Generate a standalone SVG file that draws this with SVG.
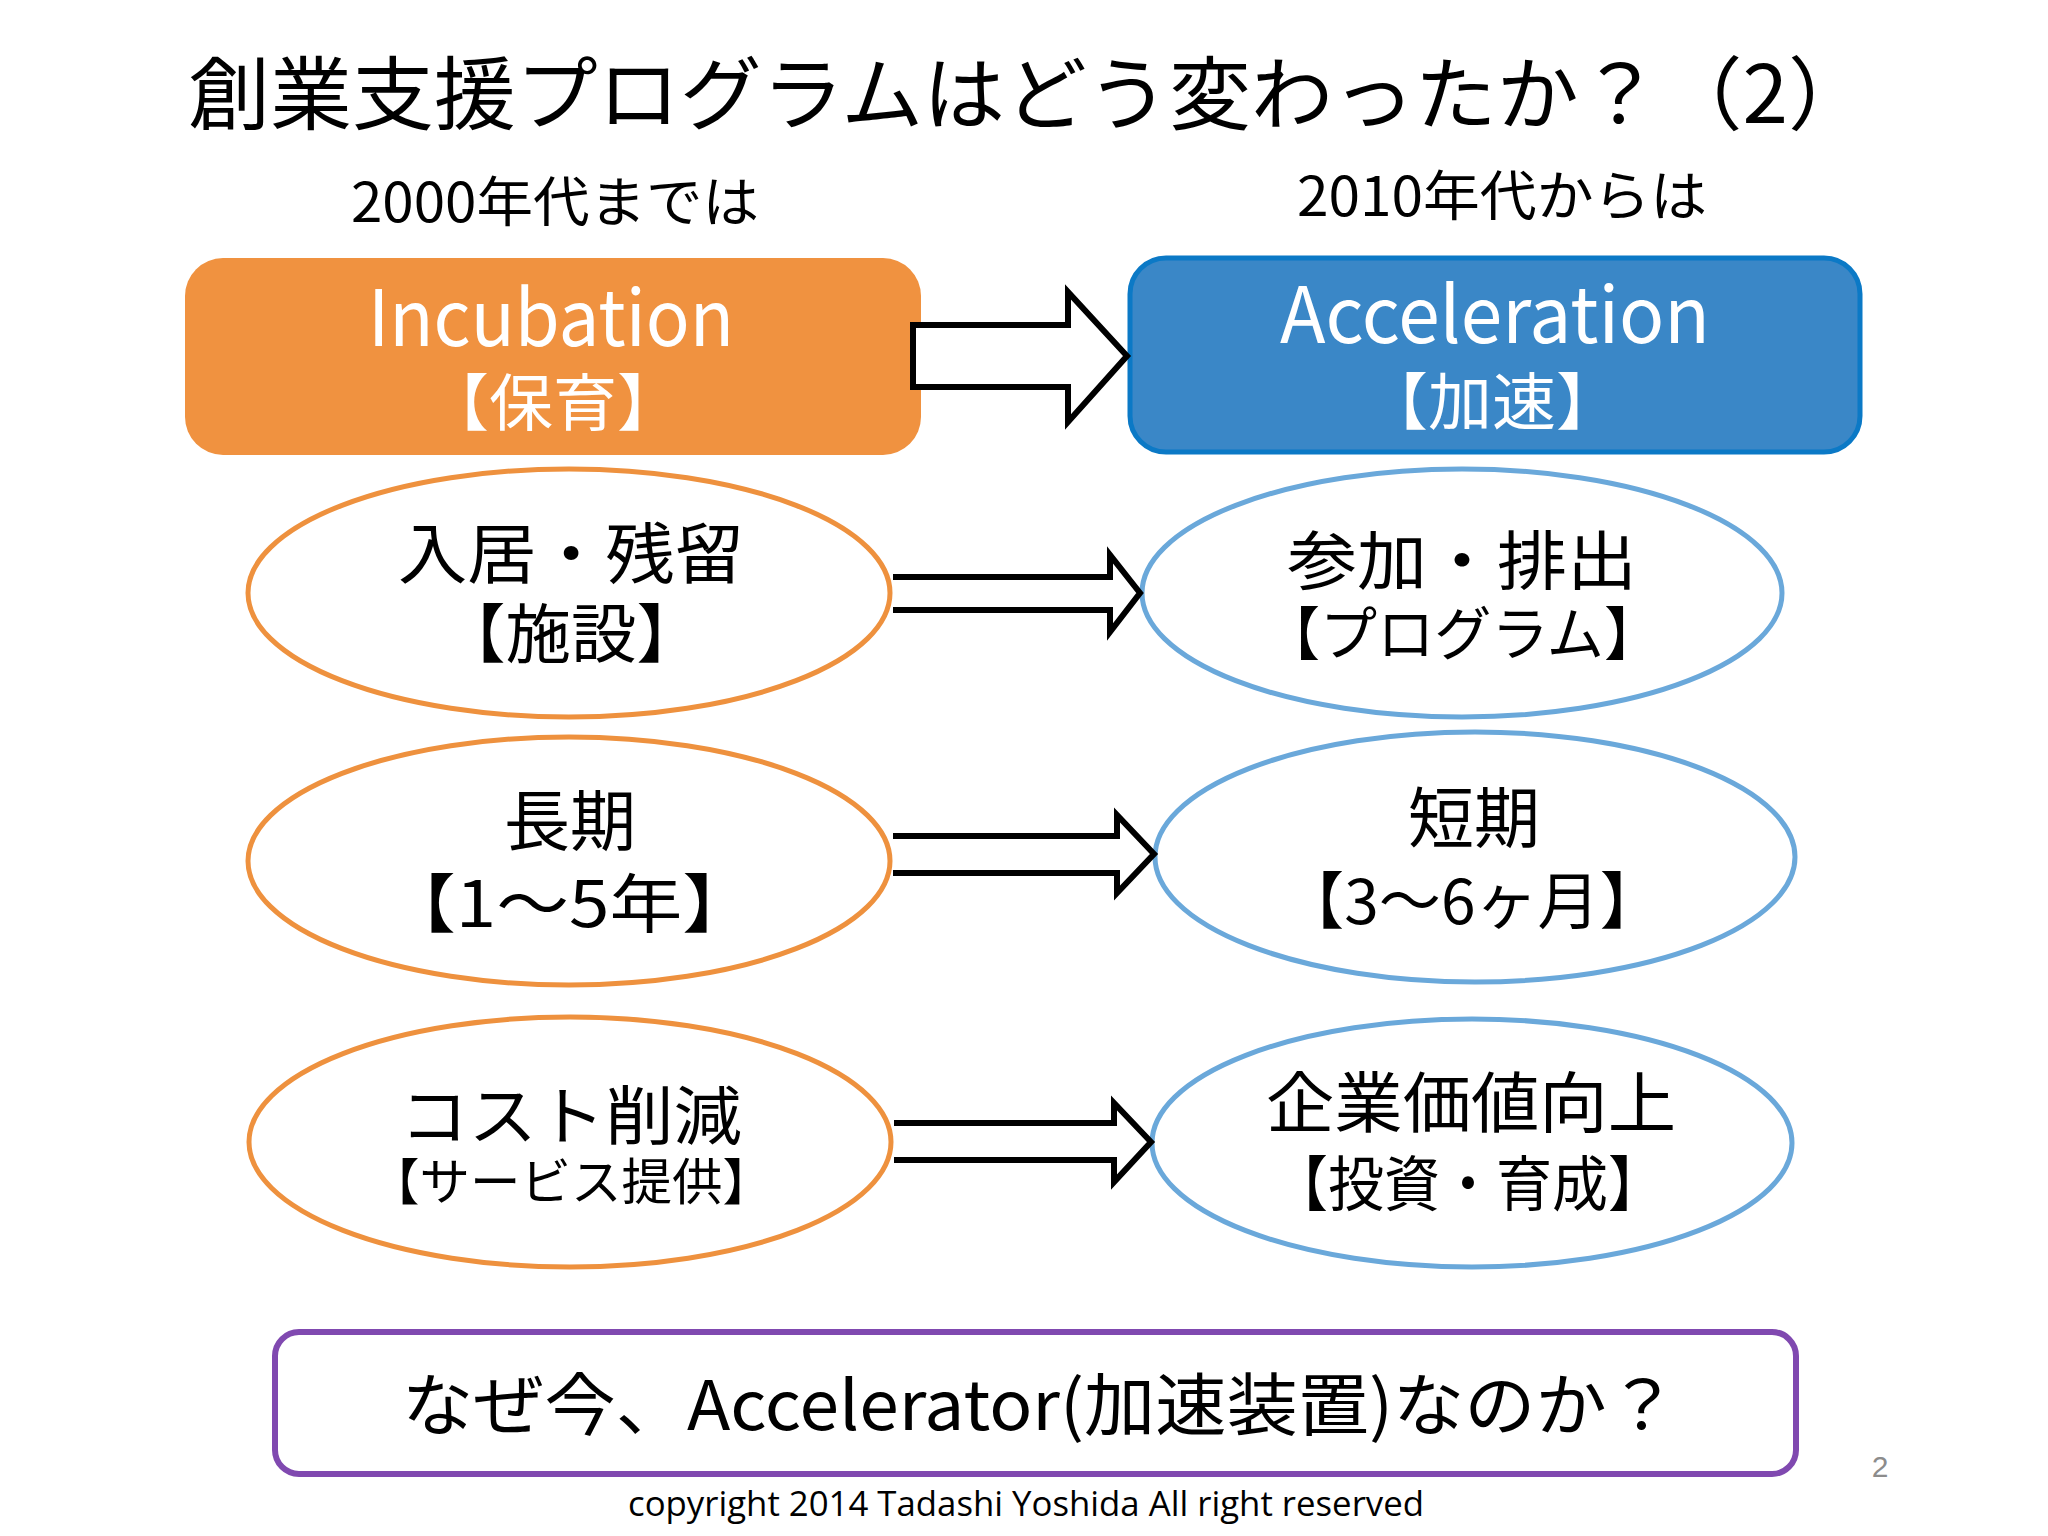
<svg xmlns="http://www.w3.org/2000/svg" width="2048" height="1536" viewBox="0 0 2048 1536">
<style>
  text { font-family: "Noto Sans CJK JP", "Noto Sans", sans-serif; }
  .t { fill: #000; }
  .w { fill: #fff; }
  .mid { text-anchor: middle; }
  .ob { fill: #F09240; }
  .bb { fill: #3A87C7; stroke: #0B79C6; stroke-width: 5; }
  .oe { fill: #fff; stroke: #EE913E; stroke-width: 5; }
  .be { fill: #fff; stroke: #6AA8DA; stroke-width: 5; }
  .arr { fill: #fff; stroke: #000; stroke-width: 6; stroke-linejoin: miter; }
  .pb { fill: #fff; stroke: #8049B0; stroke-width: 6; }
</style>
<rect width="2048" height="1536" fill="#fff"/>

<g id="title">
  <text class="t" x="188" y="123" font-size="80" textLength="1682" lengthAdjust="spacingAndGlyphs">創業支援プログラムはどう変わったか？（2）</text>
</g>
<g id="label-2000s">
  <text class="t" x="351" y="222" font-size="54" textLength="408" lengthAdjust="spacingAndGlyphs">2000年代までは</text>
</g>
<g id="label-2010s">
  <text class="t" x="1297" y="216" font-size="54" textLength="410" lengthAdjust="spacingAndGlyphs">2010年代からは</text>
</g>

<g id="incubation">
  <rect class="ob" x="185" y="258" width="736" height="197" rx="38"/>
  <text class="w" x="368" y="346" font-size="78" textLength="366" lengthAdjust="spacingAndGlyphs">Incubation</text>
  <text class="w mid" x="553" y="426" font-size="62" textLength="256" lengthAdjust="spacingAndGlyphs">【保育】</text>
</g>
<g id="acceleration">
  <rect class="bb" x="1130" y="258" width="730" height="194" rx="36"/>
  <text class="w" x="1280" y="343" font-size="78" textLength="430" lengthAdjust="spacingAndGlyphs">Acceleration</text>
  <text class="w mid" x="1492" y="425" font-size="62" textLength="256" lengthAdjust="spacingAndGlyphs">【加速】</text>
</g>

<g id="nyukyo">
  <ellipse class="oe" cx="569" cy="593" rx="321" ry="124"/>
  <text class="t mid" x="571" y="578" font-size="66" textLength="346" lengthAdjust="spacingAndGlyphs">入居・残留</text>
  <text class="t mid" x="571" y="657" font-size="64" textLength="262" lengthAdjust="spacingAndGlyphs">【施設】</text>
</g>
<g id="sanka">
  <ellipse class="be" cx="1462" cy="593" rx="320" ry="124"/>
  <text class="t mid" x="1462" y="584" font-size="64" textLength="350" lengthAdjust="spacingAndGlyphs">参加・排出</text>
  <text class="t mid" x="1462" y="655" font-size="58" textLength="398" lengthAdjust="spacingAndGlyphs">【プログラム】</text>
</g>
<g id="choki">
  <ellipse class="oe" cx="569" cy="861" rx="321" ry="124"/>
  <text class="t mid" x="570" y="845" font-size="66">長期</text>
  <text class="t mid" x="569" y="927" font-size="64" textLength="372" lengthAdjust="spacingAndGlyphs">【1～5年】</text>
</g>
<g id="tanki">
  <ellipse class="be" cx="1475" cy="857" rx="320" ry="125"/>
  <text class="t mid" x="1474" y="842" font-size="66">短期</text>
  <text class="t mid" x="1472" y="924" font-size="62" textLength="380" lengthAdjust="spacingAndGlyphs">【3～6ヶ月】</text>
</g>
<g id="cost">
  <ellipse class="oe" cx="570" cy="1142" rx="321" ry="125"/>
  <text class="t mid" x="571" y="1139" font-size="64" textLength="342" lengthAdjust="spacingAndGlyphs">コスト削減</text>
  <text class="t mid" x="571" y="1200" font-size="50" textLength="404" lengthAdjust="spacingAndGlyphs">【サービス提供】</text>
</g>
<g id="kigyo">
  <ellipse class="be" cx="1472" cy="1143" rx="320" ry="124"/>
  <text class="t mid" x="1471" y="1127" font-size="66" textLength="410" lengthAdjust="spacingAndGlyphs">企業価値向上</text>
  <text class="t mid" x="1468" y="1206" font-size="60" textLength="392" lengthAdjust="spacingAndGlyphs">【投資・育成】</text>
</g>

<g id="connectors">
  <polygon class="arr" points="913,325 1068,325 1068,292 1127,356 1068,422 1068,387 913,387"/>
  <path class="arr" d="M893,577 H1110 V555 L1140,593 L1110,632 V610 H893"/>
  <path class="arr" d="M893,836 H1117 V815 L1154,854 L1117,893 V873 H893"/>
  <path class="arr" d="M894,1123 H1114 V1103 L1151,1142 L1114,1182 V1160 H894"/>
</g>

<g id="question">
  <rect class="pb" x="275" y="1332" width="1521" height="142" rx="24"/>
  <text class="t" x="402" y="1430" font-size="68" textLength="1276" lengthAdjust="spacingAndGlyphs">なぜ今、Accelerator(加速装置)なのか？</text>
</g>

<g id="footer">
  <text x="1880" y="1477" font-size="30" fill="#8C8C8C" text-anchor="middle" style="font-family:'Liberation Sans Narrow','Liberation Sans',sans-serif">2</text>
  <text x="628" y="1516" font-size="34" fill="#000" textLength="796" lengthAdjust="spacingAndGlyphs" style="font-family:'Open Sans','Liberation Sans',sans-serif">copyright 2014 Tadashi Yoshida All right reserved</text>
</g>
</svg>
